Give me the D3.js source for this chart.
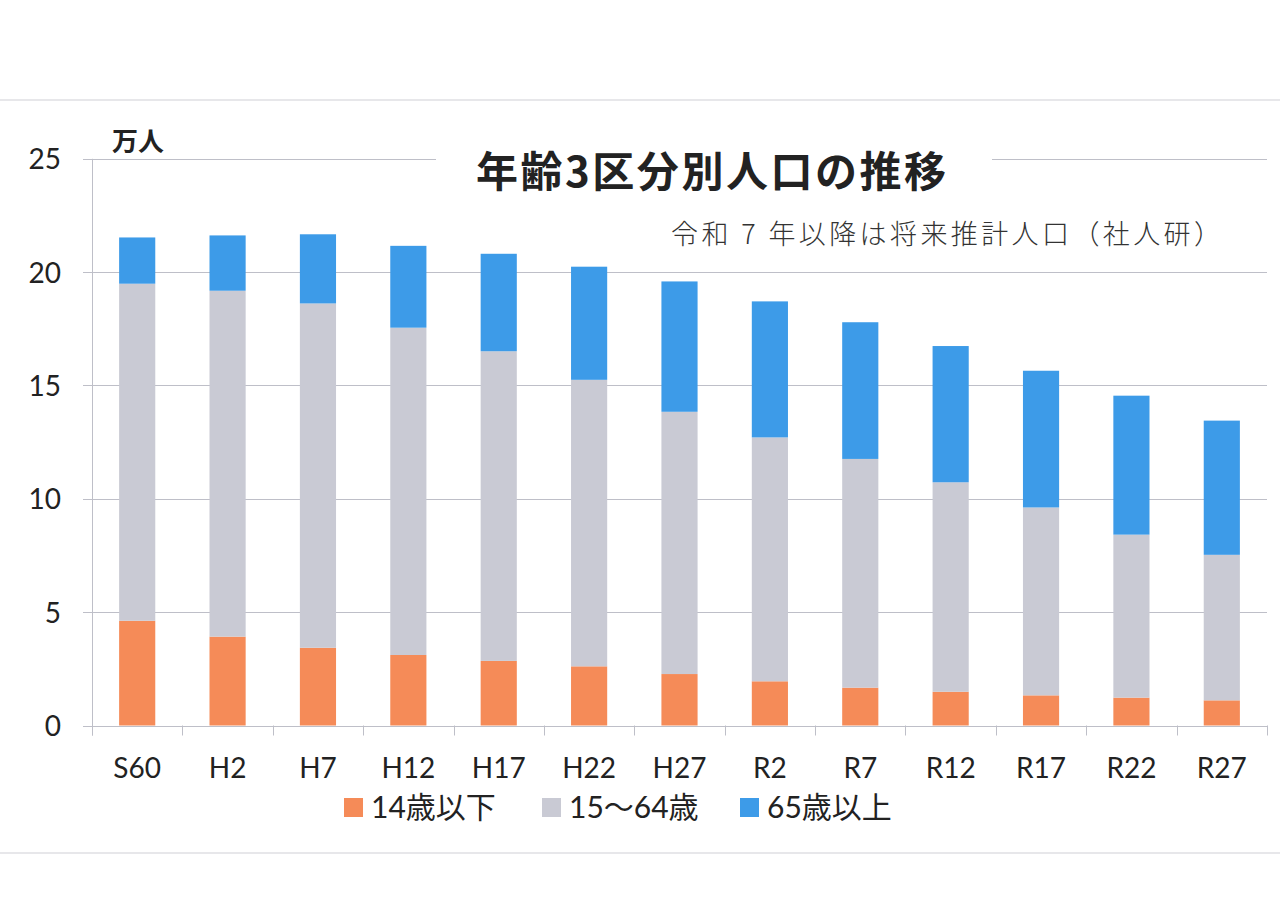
<!DOCTYPE html>
<html>
<head>
<meta charset="utf-8">
<script src="https://cdn.jsdelivr.net/npm/d3@7"></script>
<style>
html,body{margin:0;padding:0;background:#fff;}
svg{display:block;}
</style>
</head>
<body>
<svg id="chart" width="1280" height="905"></svg>
<script>
const categories = ["S60","H2","H7","H12","H17","H22","H27","R2","R7","R12","R17","R22","R27"];
const under14   = [4.62, 3.92, 3.43, 3.11, 2.85, 2.61, 2.27, 1.95, 1.67, 1.49, 1.33, 1.23, 1.11];
const age15to64 = [14.87,15.26,15.19,14.44,13.66,12.64,11.57,10.76,10.09, 9.24, 8.29, 7.19, 6.42];
const over65    = [2.04, 2.44, 3.05, 3.61, 4.30, 4.99, 5.75, 6.00, 6.03, 6.01, 6.03, 6.13, 5.92];
const seriesNames = ["14歳以下","15～64歳","65歳以上"];
const yTicks = [0,5,10,15,20,25];
const titleText = "年齢3区分別人口の推移";
const subtitleText = "令和 7 年以降は将来推計人口（社人研）";
const unitText = "万人";

const colors = ["#F58B58","#C9CAD4","#3D9BE8"];
const numFont = "Lato, 'Noto Sans CJK JP', sans-serif";

const svg = d3.select("#chart");
const plotLeft = 92, plotRight = 1267, plotTop = 158.8, plotBottom = 725.5;

const rows = categories.map((c,i)=>({cat:c, a:under14[i], b:age15to64[i], c:over65[i]}));
const stacked = d3.stack().keys(["a","b","c"])(rows);

const x = d3.scaleBand().domain(categories).range([plotLeft,plotRight]).paddingInner(0.6).paddingOuter(0.3);
const y = d3.scaleLinear().domain([0,25]).range([plotBottom,plotTop]);

// page scan lines
svg.append("line").attr("x1",0).attr("x2",1280).attr("y1",100).attr("y2",100).attr("stroke","#CFCFD6").attr("stroke-width",1.2);
svg.append("line").attr("x1",0).attr("x2",1280).attr("y1",853).attr("y2",853).attr("stroke","#CFCFD6").attr("stroke-width",1.2);

// gridlines
svg.append("g").selectAll("line").data(yTicks).join("line")
  .attr("x1",83).attr("x2",plotRight)
  .attr("y1",d=>Math.round(y(d))+0.5).attr("y2",d=>Math.round(y(d))+0.5)
  .attr("stroke","#BEBFC8").attr("stroke-width",1);

// y axis vertical line
svg.append("line").attr("x1",plotLeft+0.5).attr("x2",plotLeft+0.5).attr("y1",y(25)).attr("y2",plotBottom+10)
  .attr("stroke","#BEBFC8").attr("stroke-width",1);

// x tick marks at band boundaries
const gap = (x.step()-x.bandwidth())/2;
const boundaries = categories.map(c=>x(c)-gap).concat([plotRight]);
svg.append("g").selectAll("line").data(boundaries).join("line")
  .attr("x1",d=>Math.round(d)+0.5).attr("x2",d=>Math.round(d)+0.5)
  .attr("y1",plotBottom).attr("y2",plotBottom+10)
  .attr("stroke","#BEBFC8").attr("stroke-width",1);

// y labels via axis
const yAxis = svg.append("g").attr("transform",`translate(${plotLeft-31},0)`)
  .call(d3.axisLeft(y).tickValues(yTicks).tickSize(0).tickPadding(0).tickFormat(d3.format("d")));
yAxis.select(".domain").remove();
yAxis.selectAll("text").attr("font-family",numFont).attr("font-size",28).attr("fill","#222").attr("dy","0.36em");

// x labels via axis
const xAxis = svg.append("g").attr("transform",`translate(0,${plotBottom})`)
  .call(d3.axisBottom(x).tickSize(0).tickPadding(0));
xAxis.select(".domain").remove();
xAxis.selectAll("text").attr("font-family",numFont).attr("font-size",28).attr("fill","#222").attr("y",42).attr("dy","0.36em");

// bars
svg.append("g").selectAll("g").data(stacked).join("g")
  .attr("fill",(d,i)=>colors[i])
  .selectAll("rect").data(d=>d).join("rect")
  .attr("x",d=>x(d.data.cat)).attr("width",x.bandwidth())
  .attr("y",d=>y(d[1])).attr("height",d=>y(d[0])-y(d[1]));

// title with white backing to break the gridline
svg.append("rect").attr("x",436).attr("y",140).attr("width",556).attr("height",40).attr("fill","#fff");
svg.append("text").attr("x",476).attr("y",187).text(titleText)
  .attr("font-family","'Noto Sans CJK JP', sans-serif").attr("font-weight",700).attr("font-size",42)
  .attr("fill","#222").attr("textLength",470).attr("lengthAdjust","spacing");

// subtitle
svg.append("text").attr("x",671).attr("y",244).text(subtitleText)
  .attr("font-family","'Noto Sans CJK JP', sans-serif").attr("font-weight",300).attr("font-size",27)
  .attr("fill","#333").attr("textLength",550).attr("lengthAdjust","spacing");

// unit label
svg.append("text").attr("x",112).attr("y",151).text(unitText)
  .attr("font-family","'Noto Sans CJK JP', sans-serif").attr("font-weight",700).attr("font-size",26)
  .attr("fill","#222");

// legend
const legendX = [344, 542, 740];
const lg = svg.append("g").selectAll("g").data(seriesNames).join("g")
  .attr("transform",(d,i)=>`translate(${legendX[i]},798)`);
lg.append("rect").attr("width",19).attr("height",19).attr("fill",(d,i)=>colors[i]);
lg.append("text").attr("x",27).attr("y",19.5).text(d=>d)
  .attr("font-family",numFont).attr("font-size",30).attr("fill","#222");
</script>
</body>
</html>
